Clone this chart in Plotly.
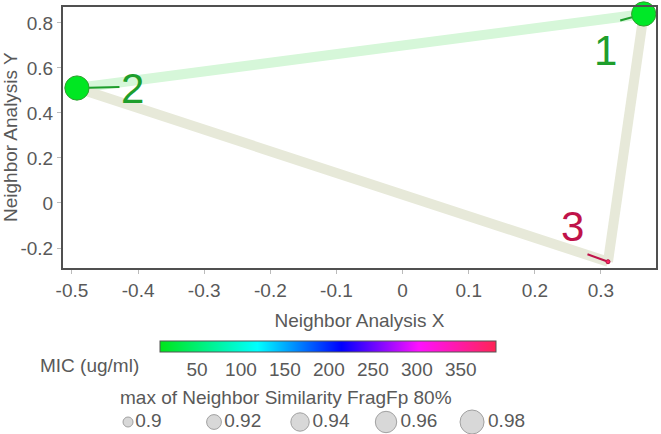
import math
import plotly.graph_objects as go

# ---------------- data ----------------
node_labels = ["1", "2", "3"]
node_x = [0.3646, -0.4925, 0.3106]
node_y = [0.840, 0.511, -0.261]
node_mic = [15, 12, 385]
node_similarity = [0.982, 0.982, 0.886]

edge_from = [0, 1, 0]
edge_to = [1, 2, 2]

x_ticks = [-0.5, -0.4, -0.3, -0.2, -0.1, 0, 0.1, 0.2, 0.3]
y_ticks = [-0.2, 0, 0.2, 0.4, 0.6, 0.8]
mic_ticks = [50, 100, 150, 200, 250, 300, 350]
legend_similarity = [0.9, 0.92, 0.94, 0.96, 0.98]
legend_labels = ["0.9", "0.92", "0.94", "0.96", "0.98"]

# ---------------- styles ----------------
FONT = "Liberation Sans, Arial, sans-serif"
GREY = "#595959"
edge_colors = ["#d6f7d9", "#e7e9d9", "#e7e9d9"]
label_colors = ["#1e9e2c", "#1e9e2c", "#c0134a"]
# pixel offsets: text position and leader-line tail relative to the node
label_text_off = [(-38, 37), (56, 0), (-35, -35)]
label_line_off = [(-25, 7), (44, -1), (-22, -8)]
colorscale = [[0.0, "#00e61a"], [0.29, "#00ffff"], [0.54, "#0000ff"],
              [0.77, "#ff10ff"], [1.0, "#ff2455"]]
CMIN, CMAX = 8, 390
MAXD, S0, SMAX = 24.0, 0.8832, 0.98

W, H = 661, 434
M_L, M_R, M_T, M_B = 63, 5, 7, 5
PAPER_H = H - M_T - M_B
PAPER_W = W - M_L - M_R


def py(pix):
    """window pixel row -> paper fraction"""
    return (H - M_B - pix) / PAPER_H


def px(pix):
    """window pixel column -> paper fraction"""
    return (pix - M_L) / PAPER_W


def diam(s):
    return MAXD * math.sqrt(max(s - S0, 0.0) / (SMAX - S0))


fig = go.Figure()

# edges
for i, (a, b) in enumerate(zip(edge_from, edge_to)):
    fig.add_trace(go.Scatter(
        x=[node_x[a], node_x[b]], y=[node_y[a], node_y[b]],
        mode="lines", line=dict(color=edge_colors[i], width=10),
        hoverinfo="skip", showlegend=False))

# nodes
fig.add_trace(go.Scatter(
    x=node_x, y=node_y, mode="markers", cliponaxis=False, showlegend=False,
    marker=dict(size=[diam(s) for s in node_similarity], color=node_mic,
                colorscale=colorscale, cmin=CMIN, cmax=CMAX,
                line=dict(color=["#2f9e2f", "#2f9e2f", "#b01040"], width=1),
                opacity=1,
                colorbar=dict(orientation="h", thickness=11, lenmode="pixels", len=336,
                              x=px(328), xanchor="center", y=py(341), yanchor="top",
                              xpad=0, ypad=0, outlinecolor="#555555", outlinewidth=1,
                              tickvals=mic_ticks, ticks="",
                              tickfont=dict(family=FONT, size=19, color=GREY))),
    text=node_labels, hoverinfo="text"))

# size legend
fig.add_trace(go.Scatter(
    x=legend_labels, y=[0] * len(legend_labels), xaxis="x2", yaxis="y2",
    mode="markers+text", text=legend_labels, textposition="middle right",
    textfont=dict(family=FONT, size=19, color=GREY), cliponaxis=False,
    marker=dict(size=[diam(s) for s in legend_similarity], color="#c8c8c8",
                line=dict(color="#7a7a7a", width=1)),
    hoverinfo="skip", showlegend=False))

annotations = []
for i, lab in enumerate(node_labels):
    r = diam(node_similarity[i]) / 2
    lx, ly = label_line_off[i]
    annotations.append(dict(x=node_x[i], y=node_y[i], xref="x", yref="y",
                            text=" ", font=dict(size=1), showarrow=True, arrowhead=0,
                            arrowwidth=2, arrowcolor=label_colors[i],
                            ax=lx, ay=ly, standoff=r))
    tx, ty = label_text_off[i]
    annotations.append(dict(x=node_x[i], y=node_y[i], xref="x", yref="y",
                            text=lab, showarrow=False, xshift=tx, yshift=-ty,
                            font=dict(family=FONT, size=42, color=label_colors[i])))

annotations.append(dict(x=px(89), y=py(365), xref="paper", yref="paper",
                        xanchor="center", yanchor="middle",
                        text="MIC (ug/ml)", showarrow=False,
                        font=dict(family=FONT, size=19, color=GREY)))
annotations.append(dict(x=px(286), y=py(397), xref="paper", yref="paper",
                        xanchor="center", yanchor="middle",
                        text="max of Neighbor Similarity FragFp 80%", showarrow=False,
                        font=dict(family=FONT, size=19, color=GREY)))
annotations.append(dict(x=px(11), y=py(137), xref="paper", yref="paper",
                        xanchor="center", yanchor="middle", textangle=-90,
                        text="Neighbor Analysis Y", showarrow=False,
                        font=dict(family=FONT, size=19, color=GREY)))

axis_common = dict(showgrid=False, zeroline=False, showline=True, mirror=True,
                   linecolor="#505050", linewidth=2, ticks="outside", ticklen=4,
                   tickcolor="#bbbbbb", tickfont=dict(family=FONT, size=19, color=GREY),
                   automargin=False)

# legend row: y2 domain at bottom of paper; y=0 lands at window row 422
leg_dom_top = 0.1
leg_span_px = leg_dom_top * PAPER_H
leg_row_px = H - M_B - 422

fig.update_layout(
    width=W, height=H,
    margin=dict(l=M_L, r=M_R, t=M_T, b=M_B),
    paper_bgcolor="white", plot_bgcolor="white",
    font=dict(family=FONT, color=GREY),
    hovermode=False,
    xaxis=dict(range=[-0.5136, 0.3832], tickvals=x_ticks,
               ticktext=[f"{v:g}" for v in x_ticks],
               title=dict(text="Neighbor Analysis X", standoff=14,
                          font=dict(family=FONT, size=19, color=GREY)),
               anchor="y", **axis_common),
    yaxis=dict(range=[-0.2889, 0.871], tickvals=y_ticks,
               ticktext=[f"{v:g}" for v in y_ticks], domain=[py(268), 1],
               anchor="x", **axis_common),
    xaxis2=dict(type="category", range=[-0.756, 6.139], domain=[0, 1], anchor="y2",
                visible=False),
    yaxis2=dict(range=[-leg_row_px, leg_span_px - leg_row_px],
                domain=[0, leg_dom_top], anchor="x2", visible=False),
    annotations=annotations,
    showlegend=False,
)

fig.write_html("out.html", config={"displayModeBar": False},
               post_script="document.body.style.margin='0';")
